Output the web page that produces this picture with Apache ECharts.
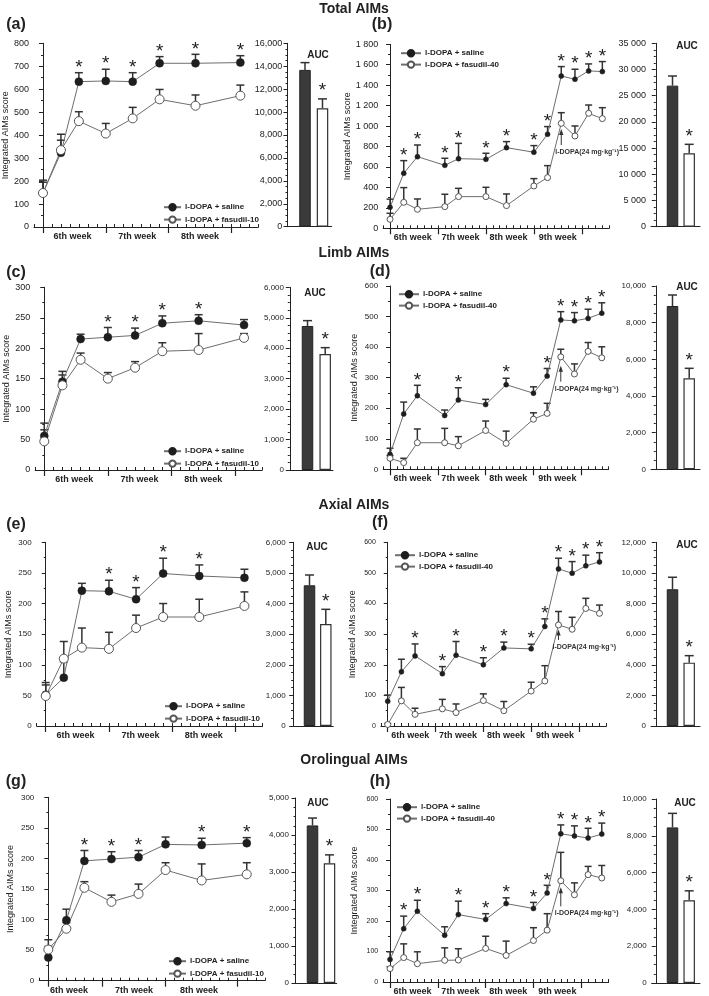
<!DOCTYPE html>
<html><head><meta charset="utf-8">
<script src="https://cdn.jsdelivr.net/npm/echarts@6/dist/echarts.min.js"></script>
<style>html,body{margin:0;padding:0;background:#fff}#c{width:709px;height:996px}</style>
</head><body><div id="c"></div><script>
// ---------- DATA ----------
const daysLeft = [0, 2, 4, 7, 10, 13, 17, 22];
const daysRight = [0, 2, 4, 8, 10, 14, 17, 21, 23, 25, 27, 29, 31];
const weekLabels = ['6th week', '7th week', '8th week', '9th week'];
const salineName = 'l-DOPA + saline';
const fasudil10Name = 'l-DOPA + fasudil-10';
const fasudil40Name = 'l-DOPA + fasudil-40';
const aucCats = [1, 2];
const doseNote = 'l-DOPA(24 mg·kg⁻¹)';
const doseDay = 25;

// (a) Total AIMs, fasudil-10
const aSaline = [148, 323, 633, 636, 633, 713, 713, 716];
const aSalineErr = [204, 378, 672, 687, 672, 742, 752, 746];
const aFasudil = [148, 335, 461, 407, 473, 556, 528, 572];
const aFasudilErr = [195, 404, 502, 451, 521, 599, 575, 618];
const aStars = [0, 0, 1, 1, 1, 1, 1, 1];
const aAUC = [13680, 10335];
const aAUCErr = [14315, 11150];
// (b) Total AIMs, fasudil-40
const bSaline = [205, 538, 701, 616, 681, 675, 789, 744, 920, 1490, 1458, 1540, 1533];
const bSalineErr = [285, 662, 815, 685, 831, 734, 848, 809, 995, 1582, 1556, 1608, 1631];
const bFasudil = [88, 254, 186, 212, 310, 310, 222, 414, 496, 1027, 903, 1125, 1073];
const bFasudilErr = [147, 398, 287, 333, 391, 401, 336, 486, 613, 1131, 1001, 1206, 1180];
const bStars = [0, 1, 1, 1, 1, 1, 1, 1, 1, 1, 1, 1, 1];
const bAUC = [26920, 14000];
const bAUCErr = [28760, 15720];
const bArrow = [972, 815];
// (c) Limb AIMs, fasudil-10
const cSaline = [56, 145, 215, 218, 221, 241, 245, 238];
const cSalineErr = [77, 162, 223, 234, 233, 253, 255, 247];
const cFasudil = [47, 139, 181, 150, 168, 195, 197, 217];
const cFasudilErr = [66, 156, 192, 160, 178, 209, 224, 224];
const cStars = [0, 0, 0, 1, 1, 1, 1, 0];
const cAUC = [4730, 3810];
const cAUCErr = [4905, 4018];
// (d) Limb AIMs, fasudil-40
const dSaline = [49, 181, 241, 176, 227, 212, 277, 249, 305, 489, 486, 494, 511];
const dSalineErr = [69, 220, 275, 194, 267, 229, 298, 270, 330, 516, 513, 524, 545];
const dFasudil = [36, 22, 87, 87, 77, 127, 85, 164, 183, 368, 312, 386, 365];
const dFasudilErr = [45, 36, 132, 134, 107, 158, 125, 185, 216, 393, 345, 415, 401];
const dStars = [0, 0, 1, 0, 1, 0, 1, 0, 1, 1, 1, 1, 1];
const dAUC = [8909, 4964];
const dAUCErr = [9509, 5509];
const dArrow = [339, 287];
// (e) Axial AIMs, fasudil-10
const eSaline = [51, 79, 221, 220, 207, 249, 245, 242];
const eSalineErr = [71, 105, 233, 238, 226, 274, 263, 256];
const eFasudil = [49, 110, 128, 126, 160, 178, 178, 196];
const eFasudilErr = [67, 138, 160, 153, 181, 200, 207, 219];
const eStars = [0, 0, 0, 1, 1, 1, 1, 0];
const eAUC = [4595, 3332];
const eAUCErr = [4932, 3811];
// (f) Axial AIMs, fasudil-40
const fSaline = [81, 177, 229, 171, 231, 200, 255, 252, 325, 513, 499, 523, 536];
const fSalineErr = [101, 218, 268, 194, 276, 223, 274, 267, 350, 548, 537, 558, 566];
const fFasudil = [5, 82, 38, 56, 44, 83, 50, 114, 147, 330, 316, 384, 368];
const fFasudilErr = [8, 126, 58, 87, 72, 105, 80, 143, 197, 374, 355, 417, 395];
const fStars = [0, 0, 1, 1, 1, 1, 1, 1, 1, 1, 1, 1, 1];
const fAUC = [8933, 4138];
const fAUCErr = [9717, 4595];
const fArrow = [315, 281];
// (g) Orolingual AIMs, fasudil-10
const gSaline = [38, 99, 196, 199, 202, 223, 222, 225];
const gSalineErr = [67, 117, 213, 211, 213, 235, 233, 234];
const gFasudil = [51, 85, 152, 129, 142, 181, 164, 174];
const gFasudilErr = [56, 95, 162, 140, 158, 193, 191, 193];
const gStars = [0, 0, 1, 1, 1, 0, 1, 1];
const gAUC = [4259, 3237];
const gAUCErr = [4458, 3463];
// (h) Orolingual AIMs, fasudil-40
const hSaline = [74, 175, 232, 153, 221, 205, 257, 241, 292, 486, 479, 472, 485];
const hSalineErr = [99, 216, 268, 181, 265, 224, 276, 261, 317, 515, 512, 504, 521];
const hFasudil = [44, 80, 60, 71, 72, 110, 87, 136, 170, 332, 286, 352, 341];
const hFasudilErr = [50, 125, 99, 112, 109, 150, 134, 178, 224, 425, 325, 379, 382];
const hStars = [0, 1, 1, 0, 1, 1, 1, 1, 1, 1, 1, 1, 1];
const hAUC = [8457, 4501];
const hAUCErr = [9220, 5009];
const hArrow = [311, 248];

// ---------- LAYOUT ----------
const FONT = '"Liberation Sans", Arial, Helvetica, sans-serif';
const INK = '#222';
const LINEGRAY = '#6e6e6e';

const linePanels = [
  {days: daysLeft, sal: aSaline, salE: aSalineErr, fas: aFasudil, fasE: aFasudilErr, stars: aStars, fasName: fasudil10Name,
   yMax: 800, yInt: 100, sep: '', ticks: [0, 7, 14, 21], labPos: [3.3, 10.5, 17.5], xMin: -1, xMax: 24,
   box: [33.3, 43.3, 225, 183.7], fs: 9, sym: 8, cap: 8, legend: [158, 198]},
  {days: daysRight, sal: bSaline, salE: bSalineErr, fas: bFasudil, fasE: bFasudilErr, stars: bStars, fasName: fasudil40Name,
   yMax: 1800, yInt: 200, sep: ' ', ticks: [0, 7, 14, 21, 28], labPos: [3.3, 10.3, 17.3, 24.5], xMin: -1, xMax: 32,
   box: [383.2, 44.3, 226, 184], fs: 9, sym: 5, cap: 7, legend: [395, 44], arrow: bArrow},
  {days: daysLeft, sal: cSaline, salE: cSalineErr, fas: cFasudil, fasE: cFasudilErr, stars: cStars, fasName: fasudil10Name,
   yMax: 300, yInt: 50, sep: '', ticks: [0, 7, 14, 21], labPos: [3.3, 10.5, 17.5], xMin: -1, xMax: 24,
   box: [35.2, 287.3, 227, 182.7], fs: 9, sym: 8, cap: 8, legend: [158, 442]},
  {days: daysRight, sal: dSaline, salE: dSalineErr, fas: dFasudil, fasE: dFasudilErr, stars: dStars, fasName: fasudil40Name,
   yMax: 600, yInt: 100, sep: '', ticks: [0, 7, 14, 21, 28], labPos: [3.3, 10.3, 17.3, 24.5], xMin: -1, xMax: 32,
   box: [383.2, 286, 225.4, 183.3], fs: 8, sym: 5, cap: 7, legend: [393, 285], arrow: dArrow},
  {days: daysLeft, sal: eSaline, salE: eSalineErr, fas: eFasudil, fasE: eFasudilErr, stars: eStars, fasName: fasudil10Name,
   yMax: 300, yInt: 50, sep: '', ticks: [0, 7, 14, 21], labPos: [3.3, 10.5, 17.5], xMin: -1, xMax: 24,
   box: [36.7, 542.3, 225.8, 183.7], fs: 8, sym: 8, cap: 8, legend: [159, 697]},
  {days: daysRight, sal: fSaline, salE: fSalineErr, fas: fFasudil, fasE: fFasudilErr, stars: fStars, fasName: fasudil40Name,
   yMax: 600, yInt: 100, sep: '', ticks: [0, 7, 14, 21, 28], labPos: [3.3, 10.3, 17.3, 24.5], xMin: -1, xMax: 32,
   box: [380.9, 542.3, 225.4, 183.7], fs: 7, sym: 5, cap: 7, legend: [389, 546], arrow: fArrow},
  {days: daysLeft, sal: gSaline, salE: gSalineErr, fas: gFasudil, fasE: gFasudilErr, stars: gStars, fasName: fasudil10Name,
   yMax: 300, yInt: 50, sep: '', ticks: [0, 6, 13, 21], labPos: [2.3, 9.5, 16.7], xMin: -1, xMax: 24,
   box: [39.3, 797.3, 225.5, 183.4], fs: 8, sym: 8, cap: 8, legend: [163, 952]},
  {days: daysRight, sal: hSaline, salE: hSalineErr, fas: hFasudil, fasE: hFasudilErr, stars: hStars, fasName: fasudil40Name,
   yMax: 600, yInt: 100, sep: '', ticks: [0, 7, 14, 21, 28], labPos: [3.3, 10.3, 17.3, 24.5], xMin: -1, xMax: 32,
   box: [383.2, 799, 225.4, 183.7], fs: 7, sym: 5, cap: 7, legend: [391, 798], arrow: hArrow}
];

const aucPanels = [
  {v: aAUC, e: aAUCErr, yMax: 16000, yInt: 2000, sep: ',', geo: [287.3, 305, 322.5, 331.7, 43.3, 226.7], fs: 9, title: [318, 55]},
  {v: bAUC, e: bAUCErr, yMax: 35000, yInt: 5000, sep: ' ', geo: [651, 672.5, 689.2, 700, 43.3, 226.7], fs: 9, title: [687, 46]},
  {v: cAUC, e: cAUCErr, yMax: 6000, yInt: 1000, sep: ',', geo: [289, 307.5, 325.2, 333, 287.3, 470], fs: 8, title: [315, 293]},
  {v: dAUC, e: dAUCErr, yMax: 10000, yInt: 2000, sep: ',', geo: [651, 672.5, 689.2, 700, 286, 469.3], fs: 8, title: [687, 287]},
  {v: eAUC, e: eAUCErr, yMax: 6000, yInt: 1000, sep: ',', geo: [290.7, 309.5, 325.8, 333.3, 542.3, 726], fs: 8, title: [317, 547]},
  {v: fAUC, e: fAUCErr, yMax: 12000, yInt: 2000, sep: ',', geo: [651, 672.5, 689.2, 700, 542.3, 726], fs: 8, title: [687, 545]},
  {v: gAUC, e: gAUCErr, yMax: 5000, yInt: 1000, sep: ',', geo: [294, 312.5, 329.5, 336.7, 798, 983], fs: 8, title: [318, 803]},
  {v: hAUC, e: hAUCErr, yMax: 10000, yInt: 2000, sep: ',', geo: [651.7, 672.5, 689.2, 700, 799, 983], fs: 8, title: [685, 803]}
];

const sectionTitles = [['Total AIMs', 354, 9], ['Limb AIMs', 354, 253], ['Axial AIMs', 354, 505], ['Orolingual AIMs', 354, 760]];
const panelLetters = [['(a)', 16, 25], ['(b)', 382, 25], ['(c)', 16, 273], ['(d)', 380, 272], ['(e)', 16, 525], ['(f)', 380, 523], ['(g)', 16, 782], ['(h)', 380, 782]];

// ---------- BUILD ----------
function fmt(sep) {
  return function (v) {
    const s = String(Math.round(v));
    if (!sep || s.length < 4) return s;
    return s.replace(/\B(?=(\d{3})+(?!\d))/g, sep);
  };
}
function errRender(capW, color) {
  return function (params, api) {
    const p0 = api.coord([api.value(0), api.value(1)]);
    const p1 = api.coord([api.value(0), api.value(2)]);
    const st = {stroke: color, lineWidth: 1.5};
    return {type: 'group', children: [
      {type: 'line', shape: {x1: p0[0], y1: p0[1], x2: p1[0], y2: p1[1]}, style: st},
      {type: 'line', shape: {x1: p1[0] - capW / 2, y1: p1[1], x2: p1[0] + capW / 2, y2: p1[1]}, style: st}
    ]};
  };
}
function starRender(gap) {
  return function (params, api) {
    const p = api.coord([api.value(0), api.value(1)]);
    return {type: 'text', x: p[0], y: p[1] - gap, style: {text: '*', font: '19px ' + FONT, fill: INK, align: 'center', verticalAlign: 'middle'}};
  };
}
function arrowRender(params, api) {
  const t = api.coord([api.value(0), api.value(1)]);
  const b = api.coord([api.value(0), api.value(2)]);
  return {type: 'group', children: [
    {type: 'line', shape: {x1: b[0], y1: b[1], x2: t[0], y2: t[1] + 4}, style: {stroke: '#333', lineWidth: 1}},
    {type: 'polygon', shape: {points: [[t[0], t[1]], [t[0] - 2.2, t[1] + 6], [t[0] + 2.2, t[1] + 6]]}, style: {fill: '#333'}},
    {type: 'text', x: b[0] - 6, y: b[1] + 7, style: {text: doseNote, font: 'bold 7px ' + FONT, fill: '#333', align: 'left', verticalAlign: 'middle'}}
  ]};
}

const grid = [], xAxis = [], yAxis = [], series = [], legend = [];
const axisLineStyle = {color: INK, width: 1};

linePanels.forEach(function (P) {
  const gi = grid.length;
  grid.push({left: P.box[0], top: P.box[1], width: P.box[2], height: P.box[3]});
  const xi = xAxis.length;
  xAxis.push({type: 'value', gridIndex: gi, min: P.xMin, max: P.xMax,
    axisLine: {lineStyle: axisLineStyle, onZero: false},
    axisTick: {show: true, customValues: P.ticks, length: 6, lineStyle: {color: INK, width: 1.2}},
    axisLabel: {customValues: P.labPos, margin: 5, fontSize: 9, fontWeight: 'bold', color: INK, fontFamily: FONT,
      formatter: function (v) { const i = P.labPos.indexOf(v); return i >= 0 ? weekLabels[i] : ''; }},
    splitLine: {show: false}});
  xAxis.push({type: 'value', gridIndex: gi, min: P.xMin, max: P.xMax, interval: 1,
    axisLine: {show: false}, axisTick: {show: true, length: 3, lineStyle: {color: INK, width: 1}},
    axisLabel: {show: false}, splitLine: {show: false}});
  const yi = yAxis.length;
  yAxis.push({type: 'value', gridIndex: gi, min: 0, max: P.yMax, interval: P.yInt,
    name: 'Integrated AIMs score', nameLocation: 'middle', nameGap: 24,
    nameTextStyle: {fontSize: 9, color: INK, fontFamily: FONT},
    axisLine: {show: true, lineStyle: axisLineStyle},
    axisTick: {show: true, length: 4, lineStyle: {color: INK}},
    minorTick: {show: true, splitNumber: 2, length: 2, lineStyle: {color: INK}},
    axisLabel: {fontSize: P.fs, color: INK, fontFamily: FONT, margin: 5, formatter: fmt(P.sep)},
    splitLine: {show: false}});
  const errData = [];
  const starData = [];
  P.days.forEach(function (d, k) {
    errData.push([d, P.sal[k], P.salE[k]]);
    errData.push([d, P.fas[k], P.fasE[k]]);
    if (P.stars[k]) starData.push([d, P.salE[k]]);
  });
  series.push({type: 'custom', xAxisIndex: xi, yAxisIndex: yi, data: errData, renderItem: errRender(P.cap, '#333'), z: 1, silent: true, clip: false});
  series.push({type: 'line', name: salineName, xAxisIndex: xi, yAxisIndex: yi, z: 3,
    data: P.days.map(function (d, k) { return [d, P.sal[k]]; }),
    symbol: 'circle', symbolSize: P.sym, showSymbol: true,
    itemStyle: {color: '#1e1e1e', borderColor: '#1e1e1e', borderWidth: 0.5},
    lineStyle: {color: LINEGRAY, width: 1}, emphasis: {disabled: true}, animation: false});
  series.push({type: 'line', name: P.fasName, xAxisIndex: xi, yAxisIndex: yi, z: 3,
    data: P.days.map(function (d, k) { return [d, P.fas[k]]; }),
    symbol: 'circle', symbolSize: P.sym + 1, showSymbol: true,
    itemStyle: {color: '#fff', borderColor: '#555', borderWidth: 1},
    lineStyle: {color: LINEGRAY, width: 1}, emphasis: {disabled: true}, animation: false});
  series.push({type: 'custom', xAxisIndex: xi, yAxisIndex: yi, data: starData, renderItem: starRender(5), z: 4, silent: true, clip: false});
  if (P.arrow) {
    series.push({type: 'custom', xAxisIndex: xi, yAxisIndex: yi, data: [[doseDay, P.arrow[0], P.arrow[1]]], renderItem: arrowRender, z: 4, silent: true, clip: false});
  }
  const right = P.xMax > 30;
  legend.push({left: P.legend[0], top: P.legend[1], orient: 'vertical', itemWidth: right ? 20 : 17, itemHeight: 8,
    itemGap: right ? 3 : 4, selectedMode: false, data: [salineName, P.fasName],
    textStyle: {fontSize: 8, fontWeight: 'bold', color: INK, fontFamily: FONT, padding: [0, 0, 0, -1]}});
});

aucPanels.forEach(function (A) {
  const g = A.geo; // axisX, darkCenter, whiteCenter, endX, top, bottom
  const u = g[2] - g[1];
  const xmin = 1 - (g[1] - g[0]) / u;
  const xmax = xmin + (g[3] - g[0]) / u;
  const gi = grid.length;
  grid.push({left: g[0], top: g[4], width: g[3] - g[0], height: g[5] - g[4]});
  const xi = xAxis.length;
  xAxis.push({type: 'value', gridIndex: gi, min: xmin, max: xmax, axisLine: {lineStyle: axisLineStyle, onZero: false},
    axisTick: {show: false}, axisLabel: {show: false}, splitLine: {show: false}});
  const yi = yAxis.length;
  yAxis.push({type: 'value', gridIndex: gi, min: 0, max: A.yMax, interval: A.yInt,
    axisLine: {show: true, lineStyle: axisLineStyle},
    axisTick: {show: true, length: 4, lineStyle: {color: INK}},
    minorTick: {show: true, splitNumber: 4, length: 2, lineStyle: {color: INK}},
    axisLabel: {fontSize: A.fs, color: INK, fontFamily: FONT, margin: 5, formatter: fmt(A.sep)},
    splitLine: {show: false}});
  series.push({type: 'bar', xAxisIndex: xi, yAxisIndex: yi, barWidth: 11.5, z: 2, animation: false,
    data: [
      {value: [aucCats[0], A.v[0]], itemStyle: {color: '#3a3a3a', borderColor: '#222', borderWidth: 1}},
      {value: [aucCats[1], A.v[1]], itemStyle: {color: '#fff', borderColor: '#333', borderWidth: 1.2}}
    ], emphasis: {disabled: true}});
  series.push({type: 'custom', xAxisIndex: xi, yAxisIndex: yi, z: 3, silent: true, clip: false,
    data: [[aucCats[0], A.v[0], A.e[0]], [aucCats[1], A.v[1], A.e[1]]], renderItem: errRender(9, '#333')});
  series.push({type: 'custom', xAxisIndex: xi, yAxisIndex: yi, z: 3, silent: true, clip: false,
    data: [[aucCats[1], A.e[1]]], renderItem: starRender(8)});
});

const graphic = [];
sectionTitles.forEach(function (t) {
  graphic.push({type: 'text', x: t[1], y: t[2], style: {text: t[0], font: 'bold 14px ' + FONT, fill: INK, align: 'center', verticalAlign: 'middle'}});
});
panelLetters.forEach(function (t) {
  graphic.push({type: 'text', x: t[1], y: t[2], style: {text: t[0], font: 'bold 16px ' + FONT, fill: INK, align: 'center', verticalAlign: 'middle'}});
});
aucPanels.forEach(function (A) {
  graphic.push({type: 'text', x: A.title[0], y: A.title[1], style: {text: 'AUC', font: 'bold 10px ' + FONT, fill: INK, align: 'center', verticalAlign: 'middle'}});
});

const chart = echarts.init(document.getElementById('c'));
chart.setOption({
  animation: false,
  backgroundColor: '#fff',
  textStyle: {fontFamily: FONT},
  grid: grid, xAxis: xAxis, yAxis: yAxis, series: series, legend: legend, graphic: graphic
});
</script></body></html>
